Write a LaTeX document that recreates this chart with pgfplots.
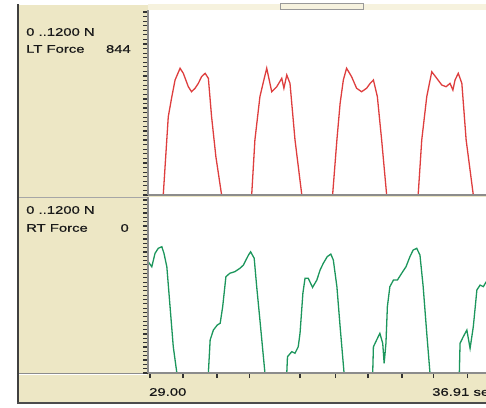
\documentclass[border=0pt]{standalone}
\usepackage{pgfplots}
\pgfplotsset{compat=1.18}
\usepackage{fontspec}
\setmainfont{Liberation Sans}
\newfontfamily\ui[FakeStretch=1.35,FakeBold=0.6]{Liberation Sans}
\definecolor{beige}{RGB}{237,231,197}
\definecolor{beigel}{RGB}{246,242,222}
\definecolor{lred}{RGB}{222,62,62}
\definecolor{lgreen}{RGB}{28,150,92}
\pgfplotsset{
  panel/.style={
    scale only axis, anchor=south west, width=338pt,
    xmin=28.944, xmax=38.385, ymin=0,
    axis background/.style={fill=white},
    axis x line*=bottom, axis y line*=left,
    axis line style={black!45, line width=1.4pt},
    axis on top,
    ytick={0,30,...,1200}, yticklabels={},
    tick align=outside, major tick length=5pt,
    y tick style={black!80, line width=1.2pt},
    x tick style={black!80, line width=1.2pt},
  }
}
\begin{document}
\begin{tikzpicture}
\useasboundingbox (0pt,0pt) rectangle (486pt,407pt);
\fill[white] (0pt,0pt) rectangle (486pt,407pt);
\fill[beige] (19pt,4pt) rectangle (486pt,402pt);
\fill[beigel] (148pt,397pt) rectangle (486pt,403pt);
\draw[black!40] (280pt,397.5pt) rectangle (363pt,403.5pt);
\draw[black!35] (19pt,210pt) -- (147pt,210pt);
\draw[black!45] (19pt,34pt) -- (147pt,34pt);
\draw[white] (19pt,33pt) -- (147pt,33pt);
\draw[line width=2pt, black!75] (18pt,3pt) -- (18pt,403pt);
\draw[line width=1.5pt, black!70] (17pt,4pt) -- (486pt,4pt);

\begin{axis}[panel, at={(148pt,212pt)}, height=185pt, ymax=1213, xtick=\empty]
\addplot[lred, line width=1.3pt] coordinates {
(28.94,0) (29.37,0) (29.51,513) (29.61,645) (29.70,754) (29.84,831) (29.93,798)
(30.07,710) (30.16,677) (30.26,700) (30.35,732) (30.44,776) (30.54,798) (30.63,765)
(30.72,513) (30.84,251) (31.00,0)
(31.84,0) (31.93,361) (32.07,645) (32.18,754) (32.26,831) (32.33,754) (32.40,677)
(32.54,710) (32.68,765) (32.74,700) (32.82,787) (32.91,732) (33.05,361) (33.24,0)
(34.10,0) (34.22,361) (34.31,601) (34.40,754) (34.49,831) (34.63,776) (34.77,700)
(34.91,677) (35.05,700) (35.15,732) (35.24,754) (35.35,645) (35.47,361) (35.61,0)
(36.49,0) (36.59,361) (36.73,645) (36.87,808) (37.01,765) (37.15,721) (37.27,710)
(37.38,732) (37.46,688) (37.52,754) (37.61,798) (37.71,732) (37.83,361) (38.03,0)
(38.39,0)
};
\end{axis}

\begin{axis}[panel, at={(148pt,34pt)}, height=176pt, ymax=1221,
  xtick={29.00,29.92,30.87,31.79,33.19,34.17,35.09,36.04,36.91,37.86}, xticklabels={}]
\addplot[lgreen, line width=1.3pt] coordinates {
(28.95,772) (29.05,737) (29.14,830) (29.23,865) (29.33,876) (29.39,830) (29.47,737)
(29.56,460) (29.65,182) (29.75,0)
(30.63,0) (30.68,229) (30.77,298) (30.88,333) (30.96,345) (31.03,460) (31.12,668)
(31.23,692) (31.37,703) (31.51,726) (31.61,749) (31.68,784) (31.75,818) (31.81,841)
(31.91,796) (31.98,599) (32.07,368) (32.21,0)
(32.82,0) (32.84,113) (32.96,148) (33.05,137) (33.14,182) (33.19,275) (33.27,553)
(33.33,657) (33.42,657) (33.54,594) (33.66,645) (33.75,714) (33.84,761) (33.95,807)
(34.05,825) (34.12,784) (34.22,599) (34.31,321) (34.42,0)
(35.22,0) (35.24,182) (35.33,229) (35.42,275) (35.50,206) (35.54,67) (35.59,206)
(35.63,460) (35.70,599) (35.80,645) (35.91,645) (36.03,692) (36.15,737) (36.26,807)
(36.35,853) (36.45,865) (36.54,818) (36.63,599) (36.73,275) (36.82,0)
(37.64,0) (37.66,206) (37.75,252) (37.85,298) (37.94,171) (38.03,321) (38.13,576)
(38.22,610) (38.31,599) (38.39,633)
};
\end{axis}

\begin{scope}[every node/.style={inner sep=0pt, font=\ui\fontsize{11}{11}\selectfont, text=black!90}]
\node[anchor=west] at (26pt,375pt) {0 ..1200 N};
\node[anchor=west] at (26pt,358pt) {LT Force};
\node[anchor=east] at (131pt,358pt) {844};
\node[anchor=west] at (26pt,197pt) {0 ..1200 N};
\node[anchor=west] at (26pt,179pt) {RT Force};
\node[anchor=east] at (129pt,179pt) {0};
\node[anchor=west] at (149pt,15pt) {29.00};
\node[anchor=west] at (432pt,15pt) {36.91 sec};
\end{scope}
\end{tikzpicture}
\end{document}
